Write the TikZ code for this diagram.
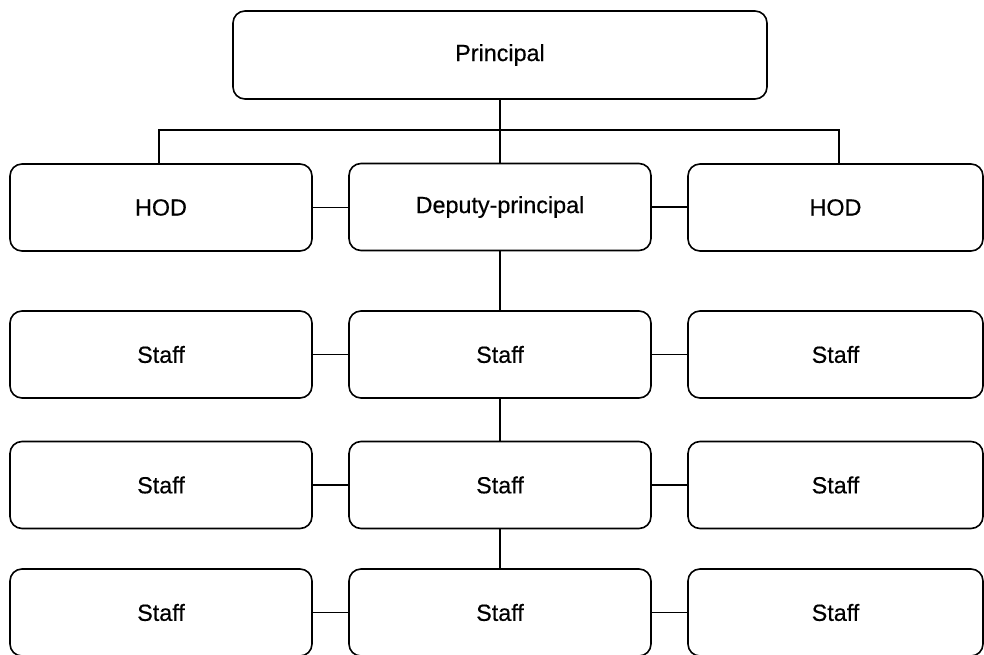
\documentclass[tikz,border=0pt]{standalone}
\usepackage{fontspec}
\setmainfont[FakeBold=0.5]{Liberation Sans}
\begin{document}
\begin{tikzpicture}[x=0.75pt,y=-0.75pt,
  box/.style={draw=black,line width=1.2pt,rounded corners=9pt,fill=white,
    inner sep=0pt,font=\fontsize{17.5pt}{20pt}\selectfont},
  wide/.style={box,minimum width=302*0.75pt,minimum height=87*0.75pt},
  edge/.style={box,minimum width=295*0.75pt,minimum height=87*0.75pt},
  link/.style={draw=black,line width=1.1pt}]
\useasboundingbox (0,0) rectangle (984,655);

% top of the chart
\node[box,minimum width=534*0.75pt,minimum height=88*0.75pt] (prin) at (500,55) {Principal};

% second level
\node[wide] (hodL) at (161,207.5) {HOD};
\node[wide] (dep) at (500,207) {Deputy-principal};
\node[edge] (hodR) at (835.5,207.5) {HOD};

% staff rows
\node[wide] (s2a) at (161,354.5) {Staff};
\node[wide] (s2b) at (500,354.5) {Staff};
\node[edge] (s2c) at (835.5,354.5) {Staff};

\node[wide] (s3a) at (161,485) {Staff};
\node[wide] (s3b) at (500,485) {Staff};
\node[edge] (s3c) at (835.5,485) {Staff};

\node[wide] (s4a) at (161,612.5) {Staff};
\node[wide] (s4b) at (500,612.5) {Staff};
\node[edge] (s4c) at (835.5,612.5) {Staff};

% branch bar under the principal
\coordinate (bl) at (159,130);
\coordinate (br) at (839,130);
\draw[link] (prin.south) -- (dep.north);
\draw[link] (bl |- hodL.north) -- (bl) -- (br) -- (br |- hodR.north);

% vertical chain down the middle
\draw[link] (dep.south) -- (s2b.north);
\draw[link] (s2b.south) -- (s3b.north);
\draw[link] (s3b.south) -- (s4b.north);

% horizontal links in each row
\foreach \l/\m/\r in {hodL/dep/hodR, s2a/s2b/s2c, s3a/s3b/s3c, s4a/s4b/s4c}{
  \draw[link] (\l.east) -- (\l.east -| \m.west);
  \draw[link] (\m.east) -- (\m.east -| \r.west);
}
\end{tikzpicture}
\end{document}
